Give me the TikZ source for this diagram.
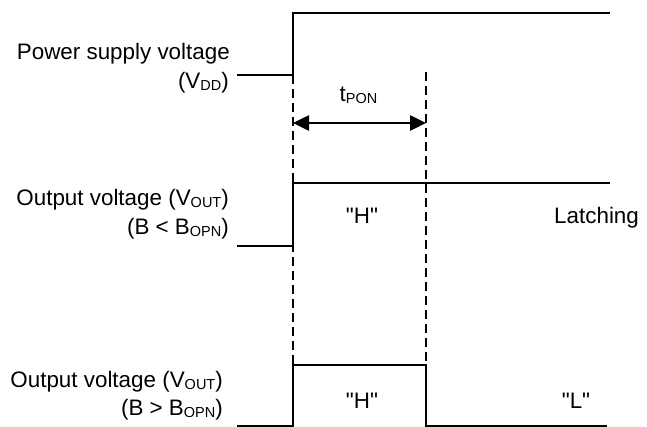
\documentclass[tikz,border=0pt]{standalone}
\usepackage{fontspec}
\setmainfont{Liberation Sans}
\newfontfamily\qfont{Liberation Sans}[Ligatures=TeXOff]
\usetikzlibrary{arrows.meta}
\newcommand{\sbs}[1]{\raisebox{-2pt}{\fontsize{14.5}{16}\selectfont #1}}
\begin{document}
\begin{tikzpicture}[x=1pt,y=-1pt,
  lbl/.style={inner sep=0pt,font=\fontsize{22.4}{27}\selectfont},
  qlbl/.style={inner sep=0pt,font=\fontsize{22.4}{27}\selectfont\qfont},
  sig/.style={line width=2.6pt,line join=miter},
  guide/.style={line width=2.4pt,dash pattern=on 9pt off 5pt},
  span/.style={line width=2.6pt,{Triangle[length=16pt,width=15pt]}-{Triangle[length=16pt,width=15pt]}}]
\useasboundingbox (0,0) rectangle (647,426);
% waveform coordinates
\coordinate (a0) at (237,75);
\coordinate (a1) at (293,75);
\coordinate (a2) at (293,13);
\coordinate (a3) at (610,13);
\coordinate (b0) at (237,246);
\coordinate (b1) at (293,246);
\coordinate (b2) at (293,183);
\coordinate (b3) at (610,183);
\coordinate (c0) at (237,426.5);
\coordinate (c1) at (293,426.5);
\coordinate (c2) at (293,365);
\coordinate (c3) at (426,365);
\coordinate (c4) at (426,426.5);
\coordinate (c5) at (607,426.5);
\coordinate (d1) at (426,72);
\coordinate (p1) at (293,123);
\coordinate (p2) at (426,123);
% guides
\draw[guide] (a1) -- (c2);
\draw[guide] (d1) -- (c3);
% signals
\draw[sig] (a0) -- (a1) -- (a2) -- (a3);
\draw[sig] (b0) -- (b1) -- (b2) -- (b3);
\draw[sig] (c0) -- (c1) -- (c2) -- (c3) -- (c4) -- (c5);
% time span
\draw[span] (p1) -- (p2);
% labels
\node[lbl,anchor=base east] (l1) at (230,59) {Power supply voltage};
\node[lbl,anchor=base east] (l2) at (229,88) {(V\sbs{DD})};
\node[lbl,anchor=base east] (l3) at (229,205) {Output voltage (V\sbs{OUT})};
\node[lbl,anchor=base east] (l4) at (229,234) {(B < B\sbs{OPN})};
\node[lbl,anchor=base east] (l5) at (223,387) {Output voltage (V\sbs{OUT})};
\node[lbl,anchor=base east] (l6) at (223,415) {(B > B\sbs{OPN})};
\node[lbl,anchor=base] (tp) at (358.5,101) {t\sbs{PON}};
\node[qlbl,anchor=base] (h1) at (362,223) {"H"};
\node[lbl,anchor=base west] (lt) at (554,223) {Latching};
\node[qlbl,anchor=base] (h2) at (362,408) {"H"};
\node[qlbl,anchor=base] (ll) at (576,408) {"L"};
\end{tikzpicture}
\end{document}
